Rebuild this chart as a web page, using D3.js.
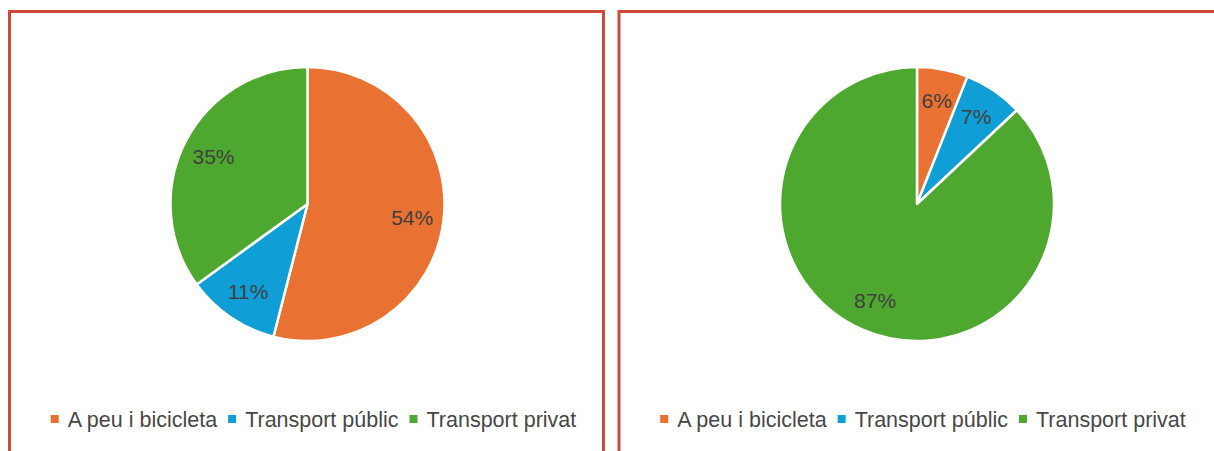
<!DOCTYPE html>
<html>
<head>
<meta charset="utf-8">
<script src="https://cdn.jsdelivr.net/npm/d3@7"></script>
<style>
  html, body { margin: 0; padding: 0; background: #fff; }
  svg { display: block; }
</style>
</head>
<body>
<script>
// categories and values, one series per panel
const categories = ["A peu i bicicleta", "Transport públic", "Transport privat"];
const leftValues = [54, 11, 35];
const rightValues = [6, 7, 87];
const colors = ["#E97132", "#0F9ED5", "#4EA72E"];

const W = 1214, H = 451;
const svg = d3.select("body").append("svg")
  .attr("width", W)
  .attr("height", H);

const color = d3.scaleOrdinal().domain(categories).range(colors);

const panels = [
  {x: 9.5, w: 594, values: leftValues},
  {x: 619, w: 600, values: rightValues}
];

const radius = 137;
const pie = d3.pie().sort(null).value(d => d.value);
const arc = d3.arc().innerRadius(0).outerRadius(radius);
const labelArc = d3.arc().innerRadius(radius * 0.77).outerRadius(radius * 0.77);

panels.forEach(p => {
  let g = svg.append("g").attr("transform", "translate(" + p.x + ",11.5)");

  // panel frame (bottom runs off the picture)
  g.append("path")
    .attr("d", "M0," + (H + 10) + "V0H" + p.w + "V" + (H + 10))
    .attr("fill", "none")
    .attr("stroke", "#CF4A3A")
    .attr("stroke-width", 3);

  let data = categories.map((c, i) => ({cat: c, value: p.values[i]}));
  let total = d3.sum(p.values);

  let pg = g.append("g").attr("transform", "translate(298,192.5)");

  pg.selectAll("path.slice")
    .data(pie(data))
    .enter().append("path")
    .attr("class", "slice")
    .attr("d", arc)
    .attr("fill", d => color(d.data.cat))
    .attr("stroke", "#fff")
    .attr("stroke-width", 2.5)
    .attr("stroke-linejoin", "round");

  pg.selectAll("text.lbl")
    .data(pie(data))
    .enter().append("text")
    .attr("class", "lbl")
    .attr("transform", d => "translate(" + labelArc.centroid(d) + ")")
    .attr("text-anchor", "middle")
    .attr("dy", "0.36em")
    .attr("font-family", "'Liberation Sans', Arial, sans-serif")
    .attr("font-size", 21)
    .attr("fill", "#404040")
    .text(d => Math.round(d.data.value / total * 100) + "%");

  // legend, centred under the pie
  let lg = g.append("g");
  let items = lg.selectAll("g.item")
    .data(categories)
    .enter().append("g")
    .attr("class", "item");

  items.append("rect")
    .attr("width", 8)
    .attr("height", 8)
    .attr("y", 403.5)
    .attr("fill", d => color(d));

  items.append("text")
    .attr("x", 17)
    .attr("y", 415)
    .attr("font-family", "'Liberation Sans', Arial, sans-serif")
    .attr("font-size", 21.5)
    .attr("fill", "#474747")
    .text(d => d);

  let xPos = 0;
  items.each(function() {
    let tw = d3.select(this).select("text").node().getComputedTextLength();
    d3.select(this).attr("transform", "translate(" + xPos + ",0)");
    xPos += 17 + tw + 11;
  });
  let legendW = xPos - 11;
  lg.attr("transform", "translate(" + (304 - legendW / 2) + ",0)");
});
</script>
</body>
</html>
